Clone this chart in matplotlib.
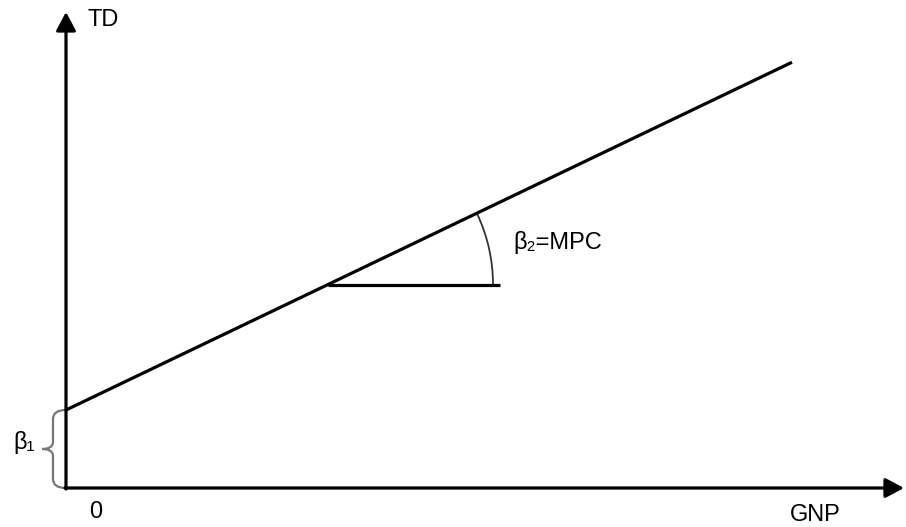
import math
import matplotlib.pyplot as plt
from matplotlib.patches import Arc, PathPatch
from matplotlib.path import Path

plt.rcParams["font.family"] = ["Liberation Sans", "DejaVu Sans"]

# consumption-style line: TD = b1 + b2 * GNP
intercept = 78
slope = 0.479
gnp = [0, 726]
td = [intercept + slope * g for g in gnp]

# where the slope triangle sits
tri_x = 262
tri_len = 172

x_max = 838
y_max = 476

fig = plt.figure(figsize=(9.06, 5.27), dpi=100)
ax = fig.add_axes([0, 0, 1, 1])
ax.set_xlim(-66, 840)
ax.set_ylim(-39, 488)
ax.axis("off")

# axes with arrows
arr = dict(arrowstyle="-|>,head_length=0.75,head_width=0.4", lw=2.3, color="black",
           mutation_scale=15, shrinkA=0, shrinkB=0)
ax.annotate("", xy=(0, y_max), xytext=(0, -1), arrowprops=arr)
ax.annotate("", xy=(x_max, 0), xytext=(-1, 0), arrowprops=arr)

# main line
ax.plot(gnp, td, color="black", lw=2.3, solid_capstyle="butt")

# slope triangle
ty = intercept + slope * tri_x
ax.plot([tri_x, tri_x + tri_len], [ty, ty], color="black", lw=2.3, solid_capstyle="butt")
ang = math.degrees(math.atan(slope))
ax.add_patch(Arc((tri_x, ty), 2 * 165, 2 * 165, theta1=0, theta2=ang, color="#333333", lw=1.3))

# brace for intercept
mid = intercept / 2
verts = [(0, intercept), (-13, intercept), (-13, intercept - 9),
         (-13, mid + 7),
         (-13, mid), (-24, mid),
         (-13, mid), (-13, mid - 7),
         (-13, 9),
         (-13, 0), (0, 0)]
codes = [Path.MOVETO, Path.CURVE3, Path.CURVE3,
         Path.LINETO,
         Path.CURVE3, Path.CURVE3,
         Path.CURVE3, Path.CURVE3,
         Path.LINETO,
         Path.CURVE3, Path.CURVE3]
ax.add_patch(PathPatch(Path(verts, codes), fill=False, edgecolor="#777777", lw=1.6))

fs = 17
ax.text(21, 468, "TD", fontsize=fs, va="center", ha="left")
ax.text(30, -24, "0", fontsize=fs, va="center", ha="center")
ax.text(724, -27, "GNP", fontsize=fs, va="center", ha="left")
ax.text(-53, 46, "β₁", fontsize=fs, va="center", ha="left")
ax.text(447, 246, "β₂=MPC", fontsize=fs, va="center", ha="left")

fig.savefig("out.png", dpi=100)
